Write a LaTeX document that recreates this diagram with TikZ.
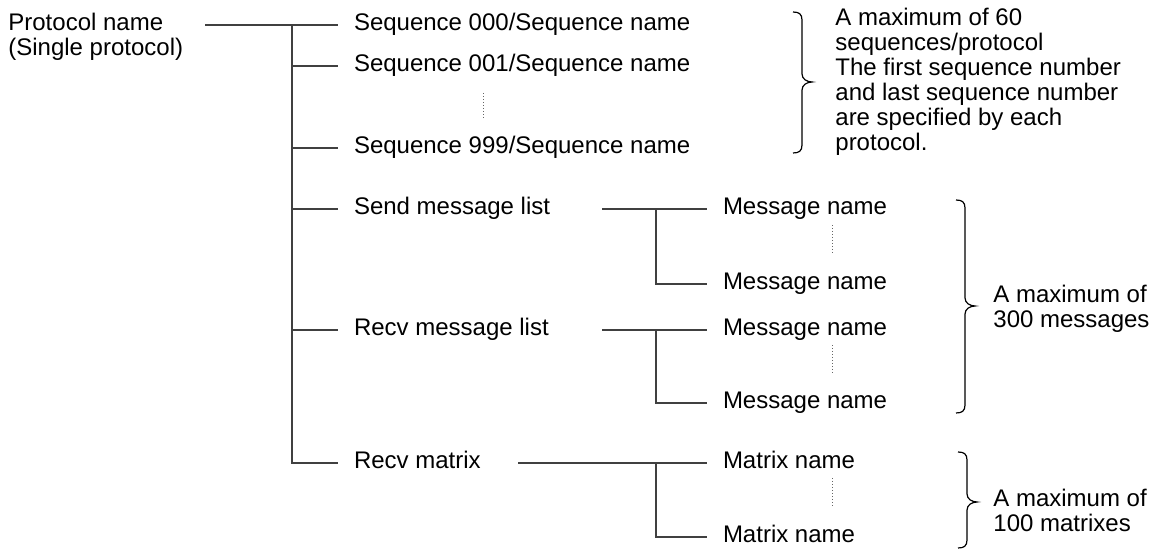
\documentclass[tikz,border=0pt]{standalone}
\usepackage{fontspec}
\setmainfont{Liberation Sans}
\newcommand{\drawbrc}[4]{%
  \draw[brc] (#1-9,#2) .. controls (#1-3,#2) and (#1,#2+2) .. (#1,#2+8)
    -- (#1,#3-8) .. controls (#1,#3-3) and (#1+5,#3) .. (#1+10,#3)
    .. controls (#1+5,#3) and (#1,#3+3) .. (#1,#3+8)
    -- (#1,#4-8) .. controls (#1,#4-2) and (#1-3,#4) .. (#1-9,#4);}
\begin{document}
\begin{tikzpicture}[x=0.5pt,y=-0.5pt,
  every node/.style={font=\fontsize{12}{12.5}\selectfont, inner sep=0pt},
  lbl/.style={anchor=west, outer xsep=8pt, text height=8.5pt, text depth=2.5pt},
  conn/.style={draw=black!75, line width=0.6pt},
  dots/.style={draw=black!60, line width=0.5pt, dash pattern=on 0.5pt off 1pt},
  brc/.style={draw=black, line width=0.6pt}]
\useasboundingbox (0,0) rectangle (1158,550);

% labels
\node[anchor=base west] (prot) at (8,31) {\begin{tabular}[t]{@{}l@{}}Protocol name\\(Single protocol)\end{tabular}};
\node[lbl] (s0) at (338,25) {Sequence 000/Sequence name};
\node[lbl] (s1) at (338,66) {Sequence 001/Sequence name};
\node[lbl] (s9) at (338,148) {Sequence 999/Sequence name};
\node[lbl] (sml) at (338,209) {Send message list};
\node[lbl] (rml) at (338,330) {Recv message list};
\node[lbl] (rmx) at (338,463) {Recv matrix};
\node[lbl] (m1) at (707,209) {Message name};
\node[lbl] (m2) at (707,284) {Message name};
\node[lbl] (m3) at (707,330) {Message name};
\node[lbl] (m4) at (707,403) {Message name};
\node[lbl] (x1) at (707,463) {Matrix name};
\node[lbl] (x2) at (707,537) {Matrix name};

\node[anchor=base west] (n1) at (835,26) {\begin{tabular}[t]{@{}l@{}}A maximum of 60\\sequences/protocol\\The first sequence number\\and last sequence number\\are specified by each\\protocol.\end{tabular}};
\node[anchor=base west] (n2) at (993,303) {\begin{tabular}[t]{@{}l@{}}A maximum of\\300 messages\end{tabular}};
\node[anchor=base west] (n3) at (993,507) {\begin{tabular}[t]{@{}l@{}}A maximum of\\100 matrixes\end{tabular}};

% junction coordinates
\coordinate (p0) at (205,25);
\coordinate (tr) at (292,25);
\coordinate (sa) at (602,209);
\coordinate (sb) at (656,209);
\coordinate (ra) at (602,330);
\coordinate (rb) at (656,330);
\coordinate (xa) at (518,463);
\coordinate (xb) at (656,463);

% connectors
\draw[conn] (p0) -- (s0.west);
\draw[conn] (tr) |- (rmx.west);
\foreach \n in {s1,s9,sml,rml} \draw[conn] (tr |- \n.west) -- (\n.west);
\draw[conn] (sa) -- (m1.west);
\draw[conn] (sb) |- (m2.west);
\draw[conn] (ra) -- (m3.west);
\draw[conn] (rb) |- (m4.west);
\draw[conn] (xa) -- (x1.west);
\draw[conn] (xb) |- (x2.west);

% ellipsis dots
\draw[dots] (483,93) -- (483,118);
\draw[dots] (832,225) -- (832,253);
\draw[dots] (832,345) -- (832,373);
\draw[dots] (832,478) -- (832,507);

% braces
\drawbrc{802}{12}{82}{153}
\drawbrc{965}{200}{306}{413}
\drawbrc{967}{452}{502}{548}
\end{tikzpicture}
\end{document}
